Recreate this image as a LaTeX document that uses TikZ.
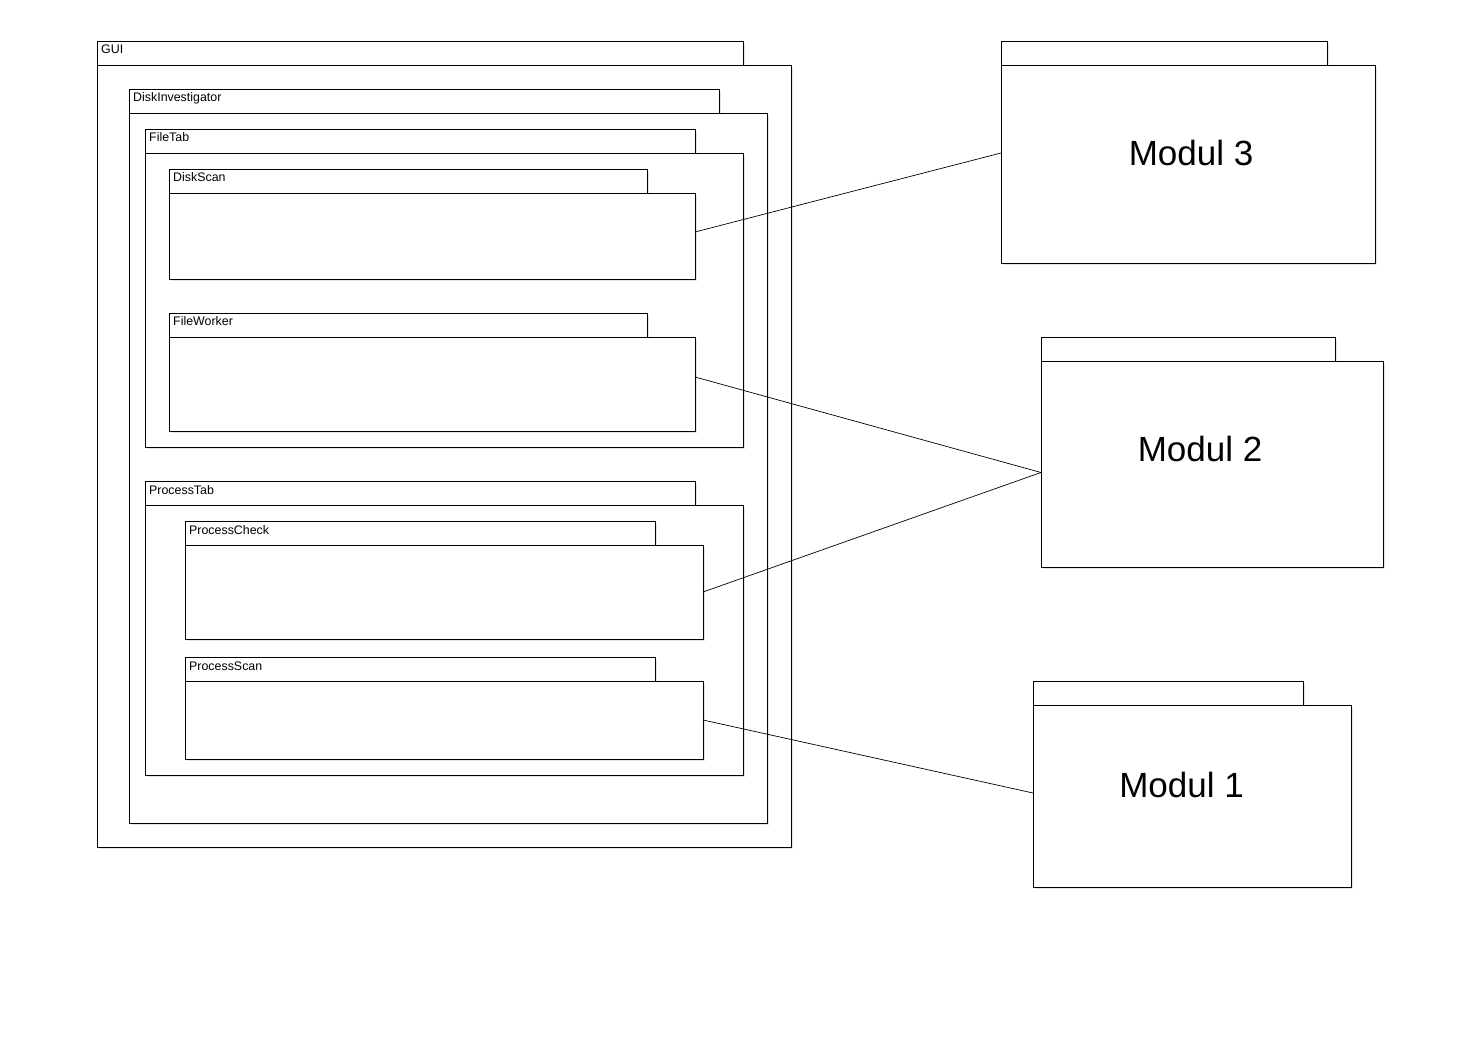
\documentclass[tikz,border=0pt]{standalone}
\usepackage{fontspec}
\setmainfont{Liberation Sans}
\usepackage{tikz}
\usetikzlibrary{shadows, positioning}

\tikzset{
    pkg/.style={draw, fill=white, line width=0.8pt, inner sep=0pt, outer sep=0pt,
        anchor=north west,
        drop shadow={shadow xshift=2pt, shadow yshift=-2pt, fill=black!22}},
    pkgtab/.style={pkg, minimum height=24pt},
    lbl/.style={font=\fontsize{12.4}{14}\selectfont, anchor=base west, inner sep=0pt},
    big/.style={font=\fontsize{35}{40}\selectfont, inner sep=0pt},
    link/.style={line width=0.7pt}
}

\begin{document}
\begin{tikzpicture}[x=1pt, y=-1pt]
        \useasboundingbox (0, 0) rectangle (1480, 1040);

        % GUI
        \node[pkgtab, minimum width=646pt] (guitab) at (97, 41) {};
        \node[pkg, minimum width=694pt, minimum height=782pt] (gui) at (97, 65) {};
        \node[lbl] at (101, 54) {GUI};

        \node[pkgtab, minimum width=590pt] (ditab) at (129, 89) {};
        \node[pkg, minimum width=638pt, minimum height=710pt] (di) at (129, 113) {};
        \node[lbl] at (133, 102) {DiskInvestigator};

        % file tab
        \node[pkgtab, minimum width=550pt] (ftab) at (145, 129) {};
        \node[pkg, minimum width=598pt, minimum height=294pt] (filetab) at (145, 153) {};
        \node[lbl] at (149, 142) {FileTab};

        \node[pkgtab, minimum width=478pt] (dstab) at (169, 169) {};
        \node[pkg, minimum width=526pt, minimum height=86pt] (diskscan) at (169, 193) {};
        \node[lbl] at (173, 182) {DiskScan};

        \node[pkgtab, minimum width=478pt] (fwtab) at (169, 313) {};
        \node[pkg, minimum width=526pt, minimum height=94pt] (fileworker) at (169, 337) {};
        \node[lbl] at (173, 326) {FileWorker};

        % process tab
        \node[pkgtab, minimum width=550pt] (ptab) at (145, 481) {};
        \node[pkg, minimum width=598pt, minimum height=270pt] (processtab) at (145, 505) {};
        \node[lbl] at (149, 494) {ProcessTab};

        \node[pkgtab, minimum width=470pt] (pctab) at (185, 521) {};
        \node[pkg, minimum width=518pt, minimum height=94pt] (processcheck) at (185, 545) {};
        \node[lbl] at (189, 534) {ProcessCheck};

        \node[pkgtab, minimum width=470pt] (pstab) at (185, 657) {};
        \node[pkg, minimum width=518pt, minimum height=78pt] (processscan) at (185, 681) {};
        \node[lbl] at (189, 670) {ProcessScan};

        % modules
        \node[pkgtab, minimum width=326pt] (m3tab) at (1001, 41) {};
        \node[pkg, minimum width=374pt, minimum height=198pt] (m3) at (1001, 65) {};
        \node[big] at ([xshift=3pt, yshift=11.5pt]m3.center) {Modul 3};

        \node[pkgtab, minimum width=294pt] (m2tab) at (1041, 337) {};
        \node[pkg, minimum width=342pt, minimum height=206pt] (m2) at (1041, 361) {};
        \node[big] at ([xshift=-12pt, yshift=15.5pt]m2.center) {Modul 2};

        \node[pkgtab, minimum width=270pt] (m1tab) at (1033, 681) {};
        \node[pkg, minimum width=318pt, minimum height=182pt] (m1) at (1033, 705) {};
        \node[big] at ([xshift=-10.5pt, yshift=11pt]m1.center) {Modul 1};

        \draw[link] ([yshift=4pt]diskscan.east) -- ([yshift=11pt]m3.west);
        \draw[link] ([yshift=7pt]fileworker.east) -- ([yshift=-8.5pt]m2.west);
        \draw[link] (processcheck.east) -- ([yshift=-8.5pt]m2.west);
        \draw[link] (processscan.east) -- ([yshift=3pt]m1.west);
    \end{tikzpicture}
\end{document}
